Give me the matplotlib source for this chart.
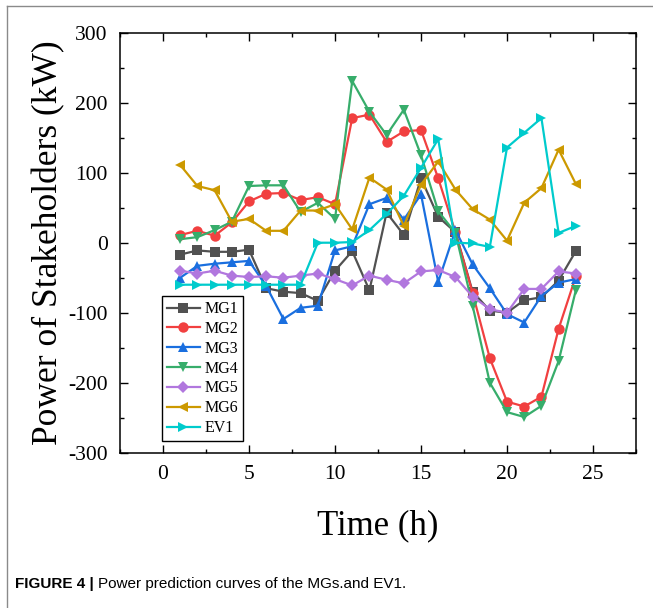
import matplotlib
matplotlib.use("Agg")
import matplotlib.pyplot as plt
from matplotlib.lines import Line2D
from matplotlib.ticker import MultipleLocator

# hourly power prediction (kW)
hours = list(range(1, 25))
mg1 = [-17, -11, -13, -13, -10, -65, -70, -72, -83, -40, -12, -68,
       43, 11, 92, 37, 15, -70, -97, -100, -82, -78, -54, -12]
mg2 = [11, 17, 10, 29, 59, 70, 71, 61, 65, 55, 178, 183,
       144, 159, 161, 92, 15, -72, -165, -227, -234, -220, -123, -48]
mg3 = [-50, -33, -30, -28, -26, -62, -109, -93, -90, -11, -5, 55,
       64, 33, 69, -56, 18, -31, -65, -102, -114, -76, -57, -52]
mg4 = [5, 8, 18, 30, 81, 82, 82, 44, 57, 34, 231, 187,
       154, 190, 125, 45, 14, -90, -200, -242, -249, -233, -169, -68]
mg5 = [-40, -44, -40, -47, -49, -48, -50, -47, -44, -52, -61, -47,
       -53, -58, -41, -39, -49, -77, -95, -100, -66, -66, -41, -44]
mg6 = [111, 81, 75, 30, 34, 17, 17, 46, 46, 55, 19, 93,
       76, 24, 83, 116, 76, 48, 33, 3, 57, 78, 133, 84]
ev1 = [-60, -60, -60, -60, -60, -60, -60, -60, 0, 0, 1, 18,
       41, 67, 107, 148, 0, -1, -6, 136, 157, 178, 14, 24]

labels = ["MG1", "MG2", "MG3", "MG4", "MG5", "MG6", "EV1"]
series = [mg1, mg2, mg3, mg4, mg5, mg6, ev1]
colors = ["#515151", "#F14040", "#1A6FDF", "#37AD6B", "#B177DE", "#CC9900", "#00CBCC"]
markers = ["s", "o", "^", "v", "D", "<", ">"]
msizes = [6.5, 7.5, 7.5, 7.5, 6.0, 7.5, 7.5]

serif = ["Liberation Serif", "DejaVu Serif"]
plt.rcParams["axes.unicode_minus"] = False

fig = plt.figure(figsize=(6.53, 6.08), dpi=100)
ax = fig.add_axes([0.1838, 0.2554, 0.7902, 0.6908])

for ys, lab, col, mk, ms in zip(series, labels, colors, markers, msizes):
    ax.plot(hours, ys, color=col, marker=mk, markersize=ms, linewidth=1.6,
            markeredgewidth=0, label=lab)

ax.set_xlim(-2.5, 27.5)
ax.set_ylim(-300, 300)
ax.xaxis.set_major_locator(MultipleLocator(5))
ax.xaxis.set_minor_locator(MultipleLocator(2.5))
ax.yaxis.set_major_locator(MultipleLocator(100))
ax.yaxis.set_minor_locator(MultipleLocator(50))
ax.tick_params(which="both", direction="in", top=True, right=True, width=1.0)
ax.tick_params(which="major", length=5.5, pad=9, labelsize=15.5)
ax.tick_params(which="minor", length=3)
for lbl in ax.get_xticklabels() + ax.get_yticklabels():
    lbl.set_family(serif)
for sp in ax.spines.values():
    sp.set_linewidth(1.1)

ax.set_xlabel("Time (h)", family=serif, fontsize=25, labelpad=18)
ax.set_ylabel("Power of Stakeholders (kW)", family=serif, fontsize=25.5, labelpad=2)

leg = ax.legend(loc="lower left", bbox_to_anchor=(0.081, 0.028), borderaxespad=0,
                prop={"family": serif, "size": 11.5}, handlelength=2.1,
                handletextpad=0.25, labelspacing=0.24, borderpad=0.3,
                fancybox=False, edgecolor="black", framealpha=1)
leg.get_frame().set_linewidth(1.0)

# page margin lines and caption
fig.add_artist(Line2D([7 / 653, 7 / 653], [0, 1 - 6 / 608], color="#8a8a8a", linewidth=1.0))
fig.add_artist(Line2D([7 / 653, 1], [1 - 6 / 608, 1 - 6 / 608], color="#8a8a8a", linewidth=1.0))
cap = ["Liberation Sans", "DejaVu Sans"]
t = fig.text(15 / 653, 1 - 584 / 608, "FIGURE 4 |", family=cap, fontsize=11,
             fontweight="bold", va="center", ha="left")
fig.canvas.draw()
bb = t.get_window_extent()
fig.text((bb.x1 + 4) / fig.bbox.width, 1 - 584 / 608,
         "Power prediction curves of the MGs.and EV1.", family=cap, fontsize=11,
         va="center", ha="left")

fig.savefig("out.png", dpi=100)
